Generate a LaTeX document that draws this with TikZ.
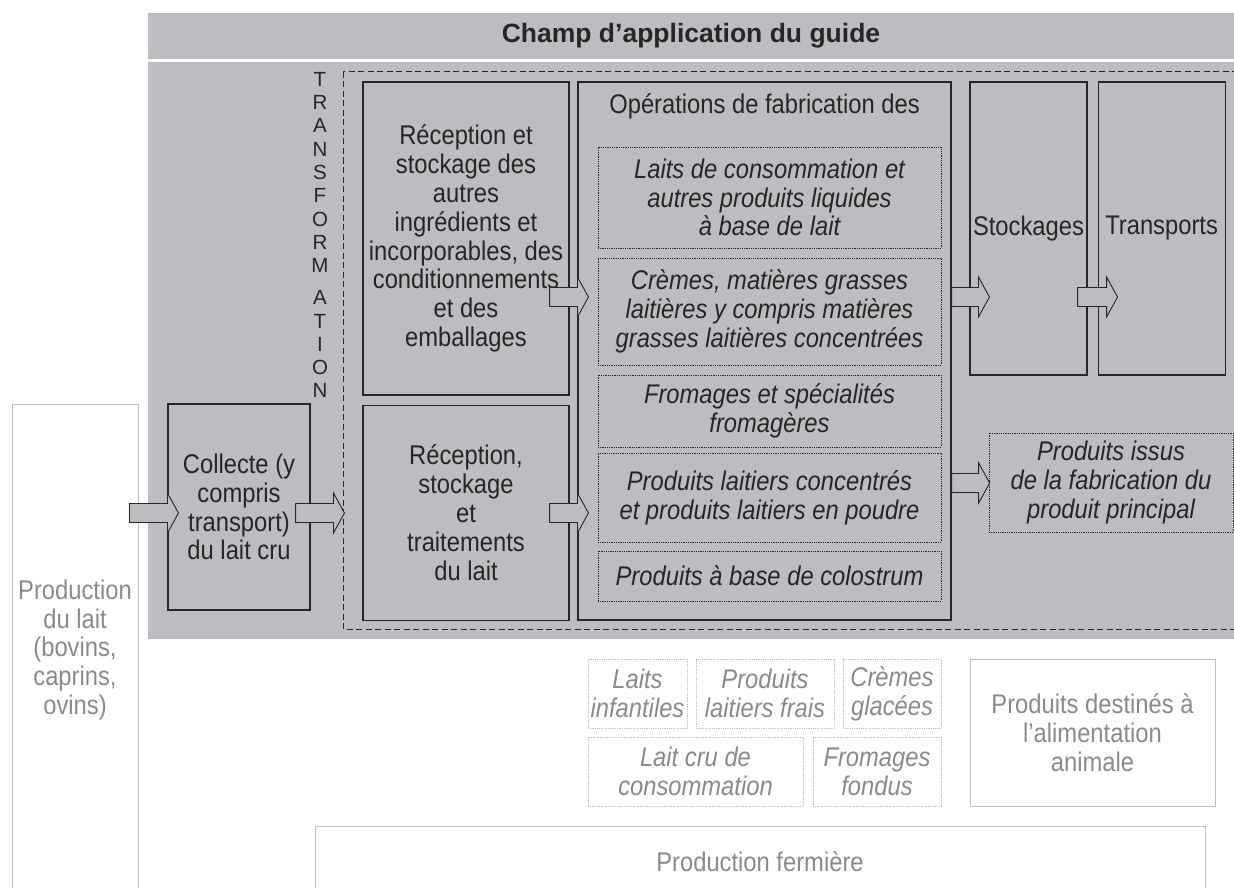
\documentclass[tikz,border=0pt]{standalone}
\usepackage{fontspec}
\setmainfont{Liberation Sans}[FakeStretch=0.88]
\newfontfamily\titrefont{Liberation Sans}
\usetikzlibrary{calc,positioning}
\definecolor{fondgris}{RGB}{188,189,193}
\definecolor{trait}{RGB}{38,38,38}
\definecolor{pale}{RGB}{138,138,140}
\definecolor{palebord}{RGB}{192,192,194}
\newcommand\corps{\fontsize{27}{28.8}\selectfont}
\newcommand\lettres{\titrefont\fontsize{20.5}{23.3}\selectfont}
\newcommand\grandtitre{\titrefont\fontsize{26.5}{30}\selectfont\bfseries}
\tikzset{
  etape/.style={draw=trait,line width=1.1pt,align=center,inner sep=0pt,font=\corps,text=trait},
  produit/.style={draw=trait,line width=.7pt,dash pattern=on .8pt off 1pt,align=center,inner sep=0pt,font=\corps\itshape,text=trait},
  horsbox/.style={draw=palebord,line width=1pt,align=center,inner sep=0pt,font=\corps,text=pale},
  horsprod/.style={draw=palebord,line width=.7pt,dash pattern=on .8pt off 1pt,align=center,inner sep=0pt,font=\corps\itshape,text=pale},
  lettre/.style={inner sep=0pt,align=center,font=\corps,text=trait},
  fleche/.style={draw=trait,fill=fondgris,line width=.9pt,
    to path={let \p1=(\tikztostart),\p2=(\tikztotarget) in
      (\x1,\y1+9.5pt) -- (\x2-11pt,\y1+9.5pt) -- (\x2-11pt,\y1+20pt) -- (\x2,\y1)
      -- (\x2-11pt,\y1-20pt) -- (\x2-11pt,\y1-9.5pt) -- (\x1,\y1-9.5pt) -- cycle}}
}
\begin{document}
\begin{tikzpicture}[x=1pt,y=-1pt]
\useasboundingbox (0,0) rectangle (1234,888);
\clip (0,0) rectangle (1234,888);
% fonds gris
\fill[fondgris] (148,13) rectangle (1240,59);
\fill[fondgris] (148,62) rectangle (1240,639);
\draw[trait,line width=1pt,dash pattern=on 6pt off 3.5pt] (343,72) rectangle (1250,629);
\node[font=\grandtitre,text=trait] (titre) at (691,36) {Champ d’application du guide};
% TRANSFORMATION
\node[lettre,font=\lettres,anchor=north] (transfo) at (320,72) {T\\R\\A\\N\\S\\F\\O\\R\\M\\[8.7pt]A\\T\\I\\O\\N};
% etapes
\node[horsbox,minimum width=126pt,minimum height=492pt] (prodlait) at (75,650) {Production\\du lait\\(bovins,\\caprins,\\ovins)};
\node[etape,minimum width=142pt,minimum height=206pt] (collecte) at (239,507) {Collecte (y\\compris\\transport)\\du lait cru};
\node[etape,minimum width=206pt,minimum height=313pt] (recA) at (466,238.5) {Réception et\\stockage des\\autres\\ingrédients et\\incorporables, des\\conditionnements\\et des\\emballages};
\node[etape,minimum width=206pt,minimum height=215pt,below=9pt of recA] (recB) {Réception,\\stockage\\et\\traitements\\du lait};
\node[etape,minimum width=373pt,minimum height=538pt] (ops) at (764.5,351) {};
\node[lettre] (opstitre) at (764.5,106) {Opérations de fabrication des};
\node[produit,minimum width=343pt,minimum height=101pt] (laitcons) at (769.5,197.5) {Laits de consommation et\\autres produits liquides\\à base de lait};
\node[produit,minimum width=343pt,minimum height=107pt] (cremes) at (769.5,311.5) {Crèmes, matières grasses\\laitières y compris matières\\grasses laitières concentrées};
\node[produit,minimum width=343pt,minimum height=72pt] (fromages) at (769.5,411) {Fromages et spécialités\\fromagères};
\node[produit,minimum width=343pt,minimum height=89pt] (concentres) at (769.5,497.5) {Produits laitiers concentrés\\et produits laitiers en poudre};
\node[produit,minimum width=343pt,minimum height=50pt] (colostrum) at (769.5,576) {Produits à base de colostrum};
\node[etape,minimum width=117pt,minimum height=293pt] (stock) at (1028.5,228.5) {Stockages};
\node[etape,minimum width=127pt,minimum height=293pt,right=10pt of stock] (transp) {Transports};
\node[produit,minimum width=244pt,minimum height=99pt] (issus) at (1111,482.5) {Produits issus\\de la fabrication du\\produit principal};
% hors champ
\node[horsprod,minimum width=99pt,minimum height=69pt] (infantiles) at (637.5,693.5) {Laits\\infantiles};
\node[horsprod,minimum width=138pt,minimum height=69pt] (frais) at (765,693.5) {Produits\\laitiers frais};
\node[horsprod,minimum width=98pt,minimum height=69pt] (glacees) at (892,693.5) {Crèmes\\glacées};
\node[horsprod,minimum width=215pt,minimum height=69pt] (laitcru) at (695.5,771.5) {Lait cru de\\consommation};
\node[horsprod,minimum width=128pt,minimum height=69pt] (fondus) at (877,771.5) {Fromages\\fondus};
\node[horsbox,minimum width=245pt,minimum height=147pt] (animale) at (1092.5,732.5) {Produits destinés à\\l’alimentation\\animale};
\node[horsbox,minimum width=890pt,minimum height=72pt] (fermiere) at (760,862) {Production fermière};
% fleches
\coordinate (rangA) at (0,297);
\coordinate (rangB) at (0,483);
\coordinate (rangC) at (0,513);
\draw[fleche] ($(prodlait.east |- rangC)+(-9,0)$) to ($(collecte.west |- rangC)+(11,0)$);
\draw[fleche] ($(collecte.east |- rangC)+(-15,0)$) to ($(recB.west |- rangC)+(-18,0)$);
\draw[fleche] ($(recB.east |- rangC)+(-20,0)$) to ($(ops.west |- rangC)+(11,0)$);
\draw[fleche] ($(recA.east |- rangA)+(-20,0)$) to ($(ops.west |- rangA)+(11,0)$);
\draw[fleche] (ops.east |- rangA) to ($(stock.west |- rangA)+(20,0)$);
\draw[fleche] ($(stock.east |- rangA)+(-10,0)$) to ($(transp.west |- rangA)+(20,0)$);
\draw[fleche] (ops.east |- rangB) to ($(issus.west |- rangB)+(1,0)$);
\end{tikzpicture}
\end{document}
